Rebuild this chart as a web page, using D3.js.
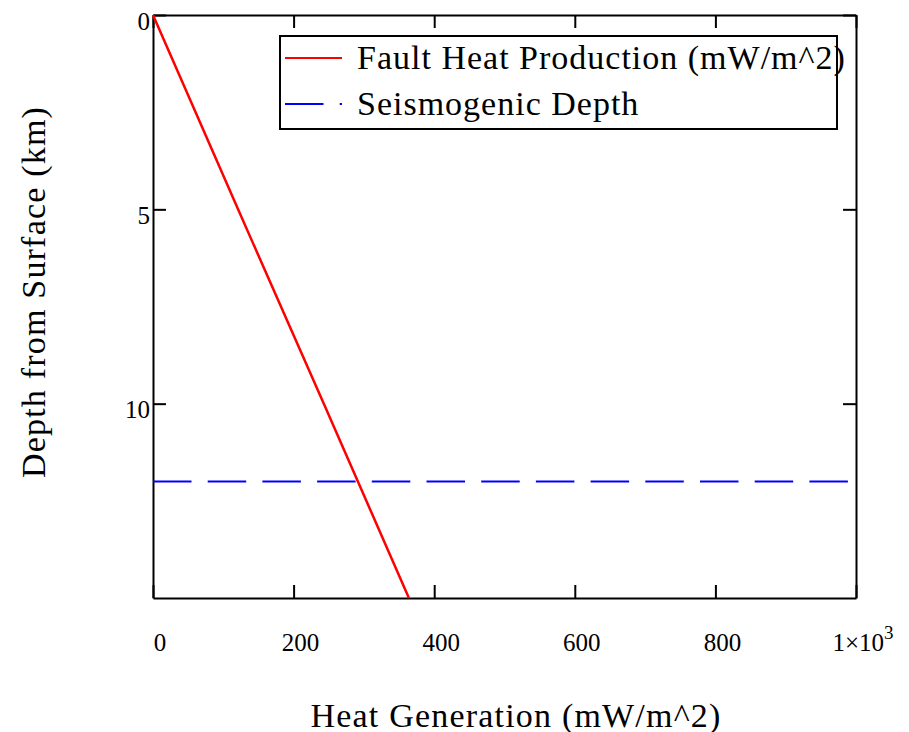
<!DOCTYPE html>
<html>
<head>
<meta charset="utf-8">
<script src="https://cdn.jsdelivr.net/npm/d3@7"></script>
<style>
  body { margin: 0; background: #fff; }
  text { font-family: "Liberation Serif", "Times New Roman", serif; fill: #000; }
</style>
</head>
<body>
<svg width="909" height="732"></svg>
<script>
// data
var depthKm = [0, 5, 10, 15];
var heatGen = [0, 121, 243, 364];
var seismoDepth = 12;
var xTicks = [0, 200, 400, 600, 800, 1000];
var yTicks = [0, 5, 10];
var seriesNames = ["Fault Heat Production (mW/m^2)", "Seismogenic Depth"];

var svg = d3.select("svg"),
    width = +svg.attr("width"),
    height = +svg.attr("height");

var plotLeft = 153, plotRight = 856, plotTop = 15, plotBottom = 598;

var x = d3.scaleLinear().domain([0, 1000]).range([plotLeft, plotRight]);
var y = d3.scaleLinear().domain([0, 15]).range([plotTop, plotBottom]);

var points = depthKm.map(function(d, i) { return {depth: d, heat: heatGen[i]}; });

// axes, ticks pointing inward on all four sides
function styleAxis(g) {
  g.select(".domain").attr("stroke", "#000").attr("stroke-width", 2);
  g.selectAll(".tick line").attr("stroke", "#000").attr("stroke-width", 2);
}

svg.append("g")
  .attr("transform", "translate(0," + plotBottom + ")")
  .call(d3.axisBottom(x).tickValues(xTicks).tickSize(-13).tickSizeOuter(0).tickFormat(d3.format("d")))
  .call(styleAxis)
  .call(function(g) {
    g.selectAll(".tick text")
      .attr("font-family", "Liberation Serif")
      .attr("font-size", 25)
      .attr("x", 6.5)
      .attr("y", 53)
      .attr("dy", 0);
    g.selectAll(".tick text").filter(function(d) { return d === 1000; })
      .text(null)
      .call(function(t) {
        t.append("tspan").text("1\u00d710");
        t.append("tspan").attr("font-size", 19).attr("dy", -12).text("3");
      });
  });

svg.append("g")
  .attr("transform", "translate(0," + plotTop + ")")
  .call(d3.axisTop(x).tickValues(xTicks).tickSize(-13).tickSizeOuter(0).tickFormat(""))
  .call(styleAxis);

svg.append("g")
  .attr("transform", "translate(" + plotLeft + ",0)")
  .call(d3.axisLeft(y).tickValues(yTicks).tickSize(-13).tickSizeOuter(0))
  .call(styleAxis)
  .call(function(g) {
    g.selectAll(".tick text")
      .attr("font-family", "Liberation Serif")
      .attr("font-size", 25)
      .attr("x", -3)
      .attr("dy", 14);
  });

svg.append("g")
  .attr("transform", "translate(" + plotRight + ",0)")
  .call(d3.axisRight(y).tickValues(yTicks).tickSize(-13).tickSizeOuter(0).tickFormat(""))
  .call(styleAxis);

// seismogenic depth
svg.append("line")
  .attr("x1", x(0)).attr("x2", x(1000))
  .attr("y1", y(seismoDepth)).attr("y2", y(seismoDepth))
  .attr("stroke", "#0000ff")
  .attr("stroke-width", 2)
  .attr("stroke-dasharray", "38.5,16.2");

// fault heat production
var line = d3.line()
  .x(function(d) { return x(d.heat); })
  .y(function(d) { return y(d.depth); });

svg.append("path")
  .datum(points)
  .attr("fill", "none")
  .attr("stroke", "#ff0000")
  .attr("stroke-width", 2.5)
  .attr("d", line);

// axis titles
svg.append("text")
  .attr("x", 516).attr("y", 727)
  .attr("text-anchor", "middle")
  .attr("font-size", 34)
  .attr("letter-spacing", 1.2)
  .text("Heat Generation (mW/m^2)");

svg.append("text")
  .attr("transform", "translate(45,292) rotate(-90)")
  .attr("text-anchor", "middle")
  .attr("font-size", 34)
  .attr("letter-spacing", 1.2)
  .text("Depth from Surface (km)");

// legend
var legend = svg.append("g");
legend.append("rect")
  .attr("x", 280).attr("y", 36)
  .attr("width", 557).attr("height", 93)
  .attr("fill", "#fff")
  .attr("stroke", "#000")
  .attr("stroke-width", 2);

var legendY = [58, 104];
var legendColor = ["#ff0000", "#0000ff"];
var legendDash = [null, "38.5,16.2"];

seriesNames.forEach(function(name, i) {
  legend.append("line")
    .attr("x1", 285).attr("x2", 342)
    .attr("y1", legendY[i]).attr("y2", legendY[i])
    .attr("stroke", legendColor[i])
    .attr("stroke-width", 2)
    .attr("stroke-dasharray", legendDash[i]);
  legend.append("text")
    .attr("x", 357).attr("y", legendY[i] + 11)
    .attr("font-size", 34)
    .attr("letter-spacing", 1)
    .text(name);
});
</script>
</body>
</html>
